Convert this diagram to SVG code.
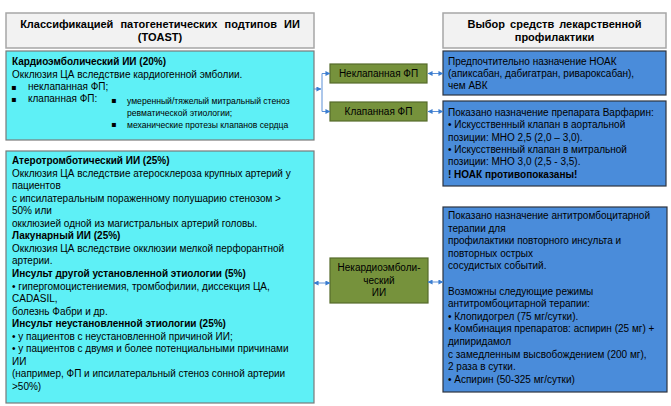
<svg xmlns="http://www.w3.org/2000/svg" width="671" height="406" viewBox="0 0 671 406">
<defs>
<marker id="ar" viewBox="0 0 6 6" refX="5.5" refY="3" markerWidth="5" markerHeight="5" markerUnits="userSpaceOnUse" orient="auto-start-reverse">
<path d="M0,0 L6,3 L0,6 z" fill="#3b7dd0"/>
</marker>
</defs>
<style>
text{font-family:"Liberation Sans",Arial,sans-serif;fill:#000;}
.hdr{fill:#f2f2f2;stroke:#a6a6a6;stroke-width:1.5;}
.cy{fill:#5ef0f6;stroke:#7a7a7a;stroke-width:1.2;}
.bl{fill:#4a8cda;stroke:#2e3440;stroke-width:1.2;}
.gr{fill:#76923c;stroke:#556b2a;stroke-width:1.2;}
.ht{font-size:11px;font-weight:bold;text-anchor:middle;word-spacing:2px;}
.t{font-size:10px;}
.b{font-size:10px;font-weight:bold;}
.s{font-size:8.6px;}
.c{font-size:10px;text-anchor:middle;}
.bu{font-family:"DejaVu Sans",sans-serif;font-size:8px;}
.con{fill:none;stroke:#5a8fd6;stroke-width:1;}
</style>

<g id="hdr-left">
<rect class="hdr" x="6" y="13" width="308" height="35"/>
<text class="ht" x="160" y="27.5" style="word-spacing:4px">Классификацией патогенетических подтипов ИИ</text>
<text class="ht" x="160" y="41">(TOAST)</text>
</g>

<g id="hdr-right">
<rect class="hdr" x="443" y="13" width="223" height="35"/>
<text class="ht" x="554.5" y="27.5">Выбор средств лекарственной</text>
<text class="ht" x="554.5" y="41">профилактики</text>
</g>

<g id="cardio">
<rect class="cy" x="6" y="51" width="308" height="89"/>
<text class="b" x="12" y="64.5">Кардиоэмболический ИИ (20%)</text>
<text class="t" x="12" y="77.5">Окклюзия ЦА вследствие кардиогенной эмболии.</text>
<text class="bu" x="11" y="89.5">▪</text>
<text class="t" x="28" y="90">неклапанная ФП;</text>
<text class="bu" x="11" y="101.5">▪</text>
<text class="t" x="28" y="102">клапанная ФП:</text>
<text class="bu" x="111" y="103">▪</text>
<text class="s" x="127" y="103.5">умеренный/тяжелый митральный стеноз</text>
<text class="s" x="127" y="115.5">ревматической этиологии;</text>
<text class="bu" x="111" y="127">▪</text>
<text class="s" x="127" y="127.5">механические протезы клапанов сердца</text>
</g>

<g id="noncardio-types">
<rect class="cy" x="6" y="151" width="308" height="252"/>
<text class="b" x="12" y="164">Атеротромботический ИИ (25%)</text>
<text class="t" x="12" y="176.6">Окклюзия ЦА вследствие атеросклероза крупных артерий у</text>
<text class="t" x="12" y="189.1">пациентов</text>
<text class="t" x="12" y="201.7">с ипсилатеральным пораженному полушарию стенозом &gt;</text>
<text class="t" x="12" y="214.2">50% или</text>
<text class="t" x="12" y="226.8">окклюзией одной из магистральных артерий головы.</text>
<text class="b" x="12" y="239.3">Лакунарный ИИ (25%)</text>
<text class="t" x="12" y="251.9">Окклюзия ЦА вследствие окклюзии мелкой перфорантной</text>
<text class="t" x="12" y="264.4">артерии.</text>
<text class="b" x="12" y="277">Инсульт другой установленной этиологии (5%)</text>
<text class="t" x="12" y="289.5">• гипергомоцистениемия, тромбофилии, диссекция ЦА,</text>
<text class="t" x="12" y="302.1">CADASIL,</text>
<text class="t" x="12" y="314.6">болезнь Фабри и др.</text>
<text class="b" x="12" y="327.2">Инсульт неустановленной этиологии (25%)</text>
<text class="t" x="12" y="339.7">• у пациентов с неустановленной причиной ИИ;</text>
<text class="t" x="12" y="352.3">• у пациентов с двумя и более потенциальными причинами</text>
<text class="t" x="12" y="364.8">ИИ</text>
<text class="t" x="12" y="377.4">(например, ФП и ипсилатеральный стеноз сонной артерии</text>
<text class="t" x="12" y="389.9">&gt;50%)</text>
</g>

<g id="nonvalv-af">
<rect class="gr" x="330" y="64" width="97" height="19"/>
<text class="c" x="378.5" y="77">Неклапанная ФП</text>
</g>

<g id="valv-af">
<rect class="gr" x="330" y="102" width="97" height="19"/>
<text class="c" x="378.5" y="115">Клапанная ФП</text>
</g>

<g id="noncardio">
<rect class="gr" x="330" y="258" width="98" height="45"/>
<text class="c" x="379" y="271">Некардиоэмболи-</text>
<text class="c" x="379" y="283.5">ческий</text>
<text class="c" x="379" y="296">ИИ</text>
</g>

<g id="noac">
<rect class="bl" x="443" y="51" width="223" height="44"/>
<text class="t" x="448" y="65">Предпочтительно назначение НОАК</text>
<text class="t" x="448" y="77">(апиксабан, дабигатран, ривароксабан),</text>
<text class="t" x="448" y="89">чем АВК</text>
</g>

<g id="warfarin">
<rect class="bl" x="443" y="101" width="223" height="85"/>
<text class="t" x="448" y="116">Показано назначение препарата Варфарин:</text>
<text class="t" x="448" y="128.3">• Искусственный клапан в аортальной</text>
<text class="t" x="448" y="140.6">позиции: МНО 2,5 (2,0 – 3,0).</text>
<text class="t" x="448" y="152.9">• Искусственный клапан в митральной</text>
<text class="t" x="448" y="165.2">позиции: МНО 3,0 (2,5 - 3,5).</text>
<text class="b" x="448" y="177.5">! НОАК противопоказаны!</text>
</g>

<g id="antiplatelet">
<rect class="bl" x="443" y="207" width="224" height="185"/>
<text class="t" x="448" y="219">Показано назначение антитромбоцитарной</text>
<text class="t" x="448" y="231.6">терапии для</text>
<text class="t" x="448" y="244.2">профилактики повторного инсульта и</text>
<text class="t" x="448" y="256.8">повторных острых</text>
<text class="t" x="448" y="269.4">сосудистых событий.</text>
<text class="t" x="448" y="294.6">Возможны следующие режимы</text>
<text class="t" x="448" y="307.2">антитромбоцитарной терапии:</text>
<text class="t" x="448" y="319.8">• Клопидогрел (75 мг/сутки).</text>
<text class="t" x="448" y="332.4">• Комбинация препаратов: аспирин (25 мг) +</text>
<text class="t" x="448" y="345">дипиридамол</text>
<text class="t" x="448" y="357.6">с замедленным высвобождением (200 мг),</text>
<text class="t" x="448" y="370.2">2 раза в сутки.</text>
<text class="t" x="448" y="382.8">• Аспирин (50-325 мг/сутки)</text>
</g>

<g id="connectors">
<path class="con" d="M314,89 H321" marker-end="url(#ar)"/>
<path class="con" d="M322,89 V73.5 H330" marker-end="url(#ar)"/>
<path class="con" d="M322,89 V111.5 H330" marker-end="url(#ar)"/>
<path class="con" d="M428,73.5 H443" marker-start="url(#ar)" marker-end="url(#ar)"/>
<path class="con" d="M428,111.5 H443" marker-start="url(#ar)" marker-end="url(#ar)"/>
<path class="con" d="M314,283 H330" marker-start="url(#ar)" marker-end="url(#ar)"/>
<path class="con" d="M428,282 H443" marker-start="url(#ar)" marker-end="url(#ar)"/>
</g>
</svg>
